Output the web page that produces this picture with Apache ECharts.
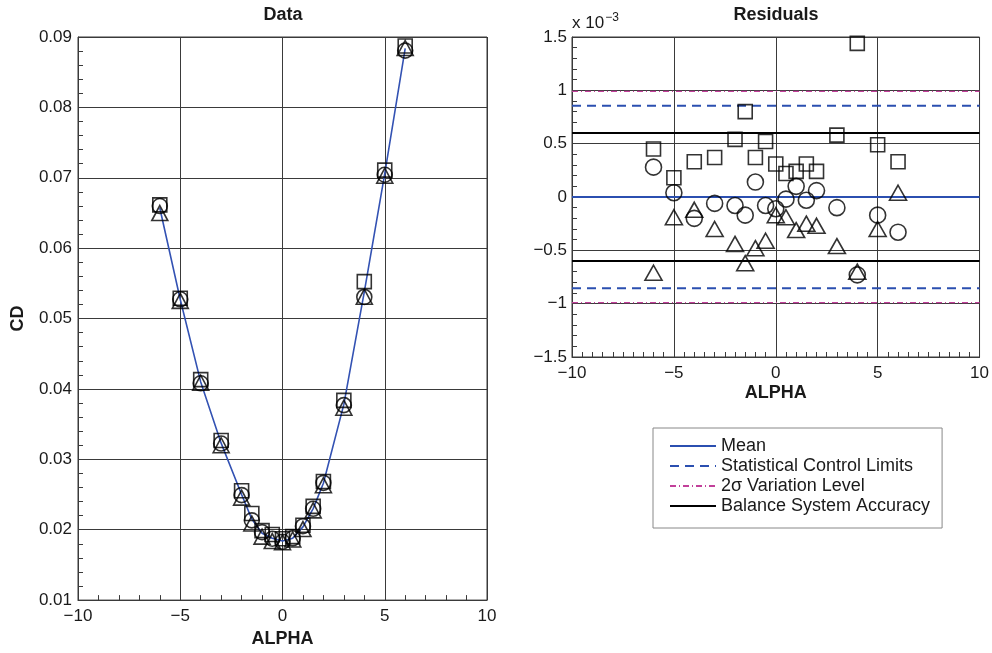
<!DOCTYPE html>
<html>
<head>
<meta charset="utf-8">
<script src="https://cdn.jsdelivr.net/npm/echarts@6/dist/echarts.min.js"></script>
<style>
  html, body { margin: 0; padding: 0; background: #fff; }
  #main { width: 992px; height: 653px; }
</style>
</head>
<body>
<div id="main"></div>
<script>
// angle of attack
var alpha = [-6, -5, -4, -3, -2, -1.5, -1, -0.5, 0, 0.5, 1, 1.5, 2, 3, 4, 5, 6];
// blue fit line in the Data panel
var fitCD = [0.0657, 0.0527, 0.0410, 0.0323, 0.0250, 0.0215, 0.0195, 0.0188, 0.0184, 0.0188, 0.0204, 0.0230, 0.0266, 0.0378, 0.0538, 0.0706, 0.0884];
// measured CD, three runs
var squareCD = [0.06615, 0.05288, 0.04133, 0.03267, 0.02554, 0.02230, 0.01987, 0.01932, 0.01871, 0.01902, 0.02064, 0.02331, 0.02684, 0.03838, 0.05524, 0.07109, 0.08873];
var circleCD = [0.06598, 0.05274, 0.04080, 0.03224, 0.02492, 0.02133, 0.01964, 0.01872, 0.01829, 0.01878, 0.02050, 0.02297, 0.02666, 0.03770, 0.05307, 0.07043, 0.08807];
var triangleCD = [0.06499, 0.05251, 0.04088, 0.03200, 0.02456, 0.02088, 0.01902, 0.01839, 0.01823, 0.01861, 0.02009, 0.02275, 0.02633, 0.03734, 0.05310, 0.07030, 0.08844];
// residuals, x 10^-3
var squareRes = [0.45, 0.18, 0.33, 0.37, 0.54, 0.80, 0.37, 0.52, 0.31, 0.22, 0.24, 0.31, 0.24, 0.58, 1.44, 0.49, 0.33];
var circleRes = [0.28, 0.04, -0.20, -0.06, -0.08, -0.17, 0.14, -0.08, -0.11, -0.02, 0.10, -0.03, 0.06, -0.10, -0.73, -0.17, -0.33];
var triangleRes = [-0.71, -0.19, -0.12, -0.30, -0.44, -0.62, -0.48, -0.41, -0.17, -0.19, -0.31, -0.25, -0.27, -0.46, -0.70, -0.30, 0.04];
// reference levels, x 10^-3
var meanLevel = 0;
var controlLimit = 0.855;
var sigmaLevel = 0.99;
var accuracyLevel = 0.6;

var FONT = 'Liberation Sans';
var ink = '#1a1a1a';
var gridInk = '#3a3a3a';

function pairs(xs, ys) {
    var out = [];
    for (var i = 0; i < xs.length; i++) out.push([xs[i], ys[i]]);
    return out;
}
function minus(v) { return String(v).replace('-', '\u2212'); }

function hLine(name, v, color, type, width) {
    return {
        name: name, type: 'line', xAxisIndex: 1, yAxisIndex: 1,
        data: [[-10, v], [10, v]], symbol: 'none', silent: true,
        lineStyle: { color: color, type: type, width: width },
        itemStyle: { color: color }
    };
}

function markers(data, symbol, size, xi) {
    return {
        type: 'scatter', xAxisIndex: xi, yAxisIndex: xi,
        data: data, symbol: symbol, symbolSize: size,
        itemStyle: { color: 'rgba(0,0,0,0)', borderColor: '#000', borderWidth: 1.6 },
        z: 5
    };
}

function xAxisOf(grid, minorSplit, gap) {
    return {
        gridIndex: grid, type: 'value', min: -10, max: 10, interval: 5,
        axisLine: { show: true, onZero: false, lineStyle: { color: gridInk } },
        axisTick: { show: true, inside: true, length: 8, lineStyle: { color: gridInk } },
        minorTick: { show: true, splitNumber: minorSplit, length: 5, lineStyle: { color: gridInk } },
        splitLine: { show: true, lineStyle: { color: gridInk, width: 1 } },
        axisLabel: { color: ink, fontSize: 17, fontFamily: FONT, margin: 8, formatter: minus },
        name: 'ALPHA', nameLocation: 'middle', nameGap: gap,
        nameTextStyle: { color: ink, fontSize: 18, fontWeight: 'bold', fontFamily: FONT }
    };
}

var myChart = echarts.init(document.getElementById('main'));

myChart.setOption({
    backgroundColor: '#fff',
    animation: false,
    grid: [
        { left: 78, top: 37, width: 409, height: 568, show: true, borderColor: gridInk, borderWidth: 1 },
        { left: 572, top: 37, width: 409, height: 320, show: true, borderColor: gridInk, borderWidth: 1 }
    ],
    xAxis: [xAxisOf(0, 5, 28), xAxisOf(1, 10, 27)],
    yAxis: [
        {
            gridIndex: 0, type: 'value', min: 0.01, max: 0.09, interval: 0.01,
            axisLine: { show: true, onZero: false, lineStyle: { color: gridInk } },
            axisTick: { show: true, inside: true, length: 8, lineStyle: { color: gridInk } },
            minorTick: { show: true, splitNumber: 5, length: 5, lineStyle: { color: gridInk } },
            splitLine: { show: true, lineStyle: { color: gridInk, width: 1 } },
            axisLabel: { color: ink, fontSize: 17, fontFamily: FONT, margin: 6,
                formatter: function (v) { return v.toFixed(2); } },
            name: 'CD', nameLocation: 'middle', nameGap: 51, nameRotate: 90,
            nameTextStyle: { color: ink, fontSize: 18, fontWeight: 'bold', fontFamily: FONT }
        },
        {
            gridIndex: 1, type: 'value', min: -1.5, max: 1.5, interval: 0.5,
            axisLine: { show: true, onZero: false, lineStyle: { color: gridInk } },
            axisTick: { show: true, inside: true, length: 8, lineStyle: { color: gridInk } },
            minorTick: { show: true, splitNumber: 5, length: 5, lineStyle: { color: gridInk } },
            splitLine: { show: true, lineStyle: { color: gridInk, width: 1 } },
            axisLabel: { color: ink, fontSize: 17, fontFamily: FONT, margin: 5, formatter: minus }
        }
    ],
    legend: {
        orient: 'vertical', left: 653, top: 428,
        borderColor: '#888', borderWidth: 1,
        padding: [9, 12, 13, 16], itemGap: 2,
        itemWidth: 46, itemHeight: 17,
        itemStyle: { opacity: 0 },
        textStyle: { color: ink, fontSize: 18, fontFamily: FONT },
        data: ['Mean', 'Statistical Control Limits', '2\u03c3 Variation Level', 'Balance System Accuracy']
    },
    graphic: [
        { type: 'text', x: 283, y: 15, style: { text: 'Data', fill: ink, font: 'bold 18px ' + FONT,
            textAlign: 'center', textVerticalAlign: 'middle' } },
        { type: 'text', x: 776, y: 15, style: { text: 'Residuals', fill: ink, font: 'bold 18px ' + FONT,
            textAlign: 'center', textVerticalAlign: 'middle' } },
        { type: 'text', left: 572, top: 12, style: {
            text: '{a|x 10}{b|\u22123}',
            rich: {
                a: { fontSize: 17, fontFamily: FONT, fill: ink },
                b: { fontSize: 12, fontFamily: FONT, fill: ink, verticalAlign: 'top', padding: [0, 0, 10, 1] }
            }
        } }
    ],
    series: [
        {
            name: 'Fit', type: 'line', xAxisIndex: 0, yAxisIndex: 0,
            data: pairs(alpha, fitCD), symbol: 'none',
            lineStyle: { color: '#3352b3', width: 1.6 }, z: 3
        },
        markers(pairs(alpha, squareCD), 'rect', 14, 0),
        markers(pairs(alpha, circleCD), 'circle', 15, 0),
        markers(pairs(alpha, triangleCD), 'triangle', [16, 15], 0),

        hLine('2\u03c3 Variation Level', sigmaLevel, '#c2409a', [6, 3, 1, 3], 1.2),
        hLine('2\u03c3 Variation Level', -sigmaLevel, '#c2409a', [6, 3, 1, 3], 1.2),
        hLine('Statistical Control Limits', controlLimit, '#2b4fb0', [9, 6], 2),
        hLine('Statistical Control Limits', -controlLimit, '#2b4fb0', [9, 6], 2),
        hLine('Balance System Accuracy', accuracyLevel, '#000', 'solid', 2),
        hLine('Balance System Accuracy', -accuracyLevel, '#000', 'solid', 2),
        hLine('Mean', meanLevel, '#2b4fb0', 'solid', 2),

        markers(pairs(alpha, squareRes), 'rect', 14, 1),
        markers(pairs(alpha, circleRes), 'circle', 16, 1),
        markers(pairs(alpha, triangleRes), 'triangle', [17, 15], 1)
    ]
});
</script>
</body>
</html>
